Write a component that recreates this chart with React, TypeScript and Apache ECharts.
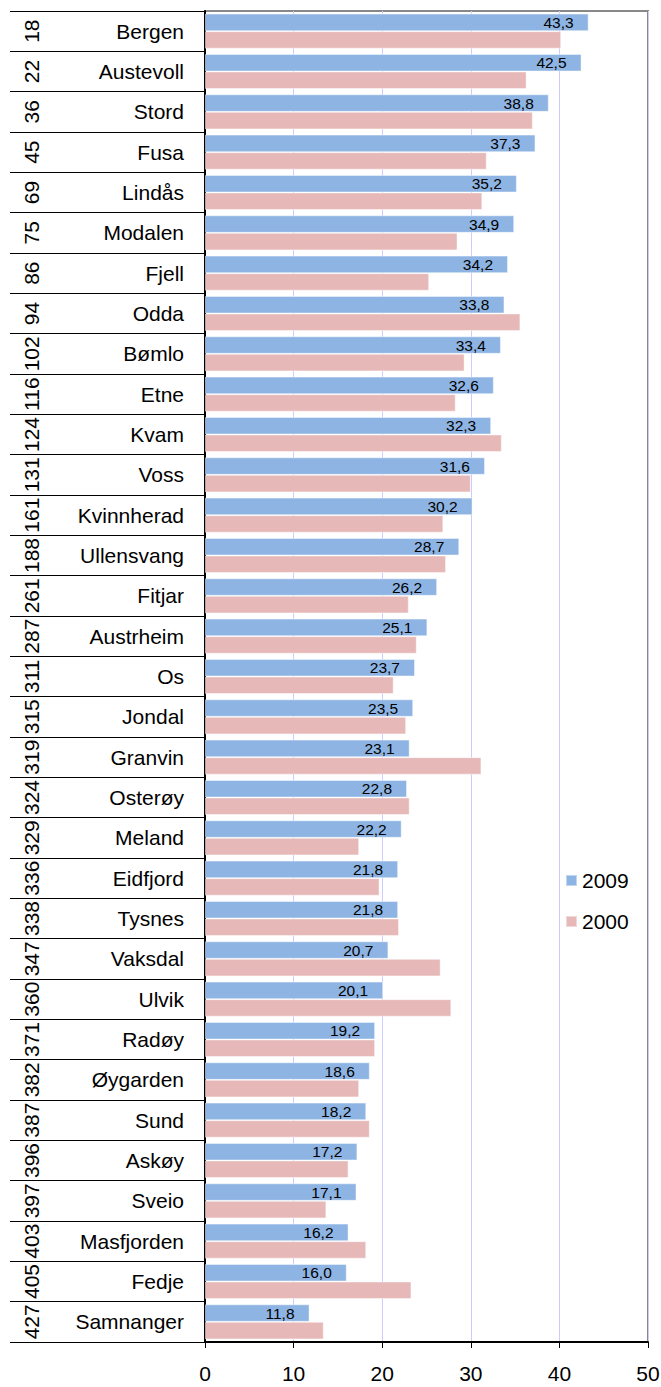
import React, { useEffect, useRef } from 'react';
import * as echarts from 'echarts';

const ranks = ['18', '22', '36', '45', '69', '75', '86', '94', '102', '116', '124', '131', '161', '188', '261', '287', '311', '315', '319', '324', '329', '336', '338', '347', '360', '371', '382', '387', '396', '397', '403', '405', '427'];

const names = ['Bergen', 'Austevoll', 'Stord', 'Fusa', 'Lindås', 'Modalen', 'Fjell', 'Odda', 'Bømlo', 'Etne', 'Kvam', 'Voss', 'Kvinnherad', 'Ullensvang', 'Fitjar', 'Austrheim', 'Os', 'Jondal', 'Granvin', 'Osterøy', 'Meland', 'Eidfjord', 'Tysnes', 'Vaksdal', 'Ulvik', 'Radøy', 'Øygarden', 'Sund', 'Askøy', 'Sveio', 'Masfjorden', 'Fedje', 'Samnanger'];

const values2009 = [43.3, 42.5, 38.8, 37.3, 35.2, 34.9, 34.2, 33.8, 33.4, 32.6, 32.3, 31.6, 30.2, 28.7, 26.2, 25.1, 23.7, 23.5, 23.1, 22.8, 22.2, 21.8, 21.8, 20.7, 20.1, 19.2, 18.6, 18.2, 17.2, 17.1, 16.2, 16.0, 11.8];

const values2000 = [40.2, 36.3, 37.0, 31.8, 31.3, 28.5, 25.3, 35.6, 29.3, 28.3, 33.5, 30.0, 26.9, 27.2, 23.0, 23.9, 21.3, 22.7, 31.2, 23.1, 17.4, 19.7, 21.9, 26.6, 27.8, 19.2, 17.4, 18.6, 16.2, 13.7, 18.2, 23.3, 13.4];

const seriesNames = ['2009', '2000'];
const xMin = 0;
const xMax = 50;
const xInterval = 10;

const FONT = '"Liberation Sans", Arial, sans-serif';

export default function App() {
  const ref = useRef<HTMLDivElement>(null);

  useEffect(() => {
    if (!ref.current) return;
    const chart = echarts.init(ref.current, null, { renderer: 'svg' });
    chart.setOption({
      animation: false,
      textStyle: { fontFamily: FONT, color: '#000' },
      grid: {
        left: 205,
        right: 13,
        top: 11,
        bottom: 45,
        show: true,
        borderColor: '#888888',
        borderWidth: 2,
        containLabel: false,
        outerBoundsMode: 'none',
      },
      legend: {
        orient: 'vertical',
        left: 565,
        top: 870,
        padding: 0,
        itemWidth: 11,
        itemHeight: 11,
        itemGap: 20,
        icon: 'rect',
        data: seriesNames,
        textStyle: { fontSize: 21, color: '#000', fontFamily: FONT },
      },
      xAxis: {
        type: 'value',
        min: xMin,
        max: xMax,
        interval: xInterval,
        axisLine: { show: true, lineStyle: { color: '#000', width: 2 } },
        axisTick: { show: true, length: 6, lineStyle: { color: '#000', width: 1 } },
        axisLabel: { fontSize: 21, color: '#000', margin: 21, fontFamily: FONT },
        splitLine: { show: true, lineStyle: { color: '#CCCCFF', width: 1 } },
      },
      yAxis: [
        {
          type: 'category',
          data: names,
          inverse: true,
          position: 'left',
          axisLine: { show: true, lineStyle: { color: '#000', width: 2 } },
          axisTick: { show: true, interval: 0, length: 195, lineStyle: { color: '#000', width: 1 } },
          axisLabel: { interval: 0, fontSize: 21, color: '#000', margin: 21, fontFamily: FONT },
          splitLine: { show: false },
        },
        {
          type: 'category',
          data: ranks,
          inverse: true,
          position: 'left',
          offset: 163,
          axisLine: { show: false },
          axisTick: { show: false },
          axisLabel: { interval: 0, rotate: 90, fontSize: 21, color: '#000', margin: 0, fontFamily: FONT },
          splitLine: { show: false },
        },
      ],
      series: [
        {
          name: seriesNames[0],
          type: 'bar',
          yAxisIndex: 0,
          data: values2009,
          barGap: '0%',
          barCategoryGap: '13%',
          itemStyle: { color: '#8EB4E3', borderColor: 'rgba(255,255,255,0.45)', borderWidth: 1 },
          label: {
            show: true,
            position: 'insideRight',
            distance: 15,
            fontSize: 15.5,
            color: '#000',
            fontFamily: FONT,
            formatter: (p: any) => Number(p.value).toFixed(1).replace('.', ','),
          },
        },
        {
          name: seriesNames[1],
          type: 'bar',
          yAxisIndex: 0,
          data: values2000,
          barGap: '0%',
          barCategoryGap: '13%',
          itemStyle: { color: '#E6B9B8', borderColor: 'rgba(255,255,255,0.45)', borderWidth: 1 },
        },
      ],
    });
    return () => chart.dispose();
  }, []);

  return (
    <div
      ref={ref}
      style={{ position: 'absolute', left: 0, top: 0, width: 661, height: 1387 }}
    />
  );
}
